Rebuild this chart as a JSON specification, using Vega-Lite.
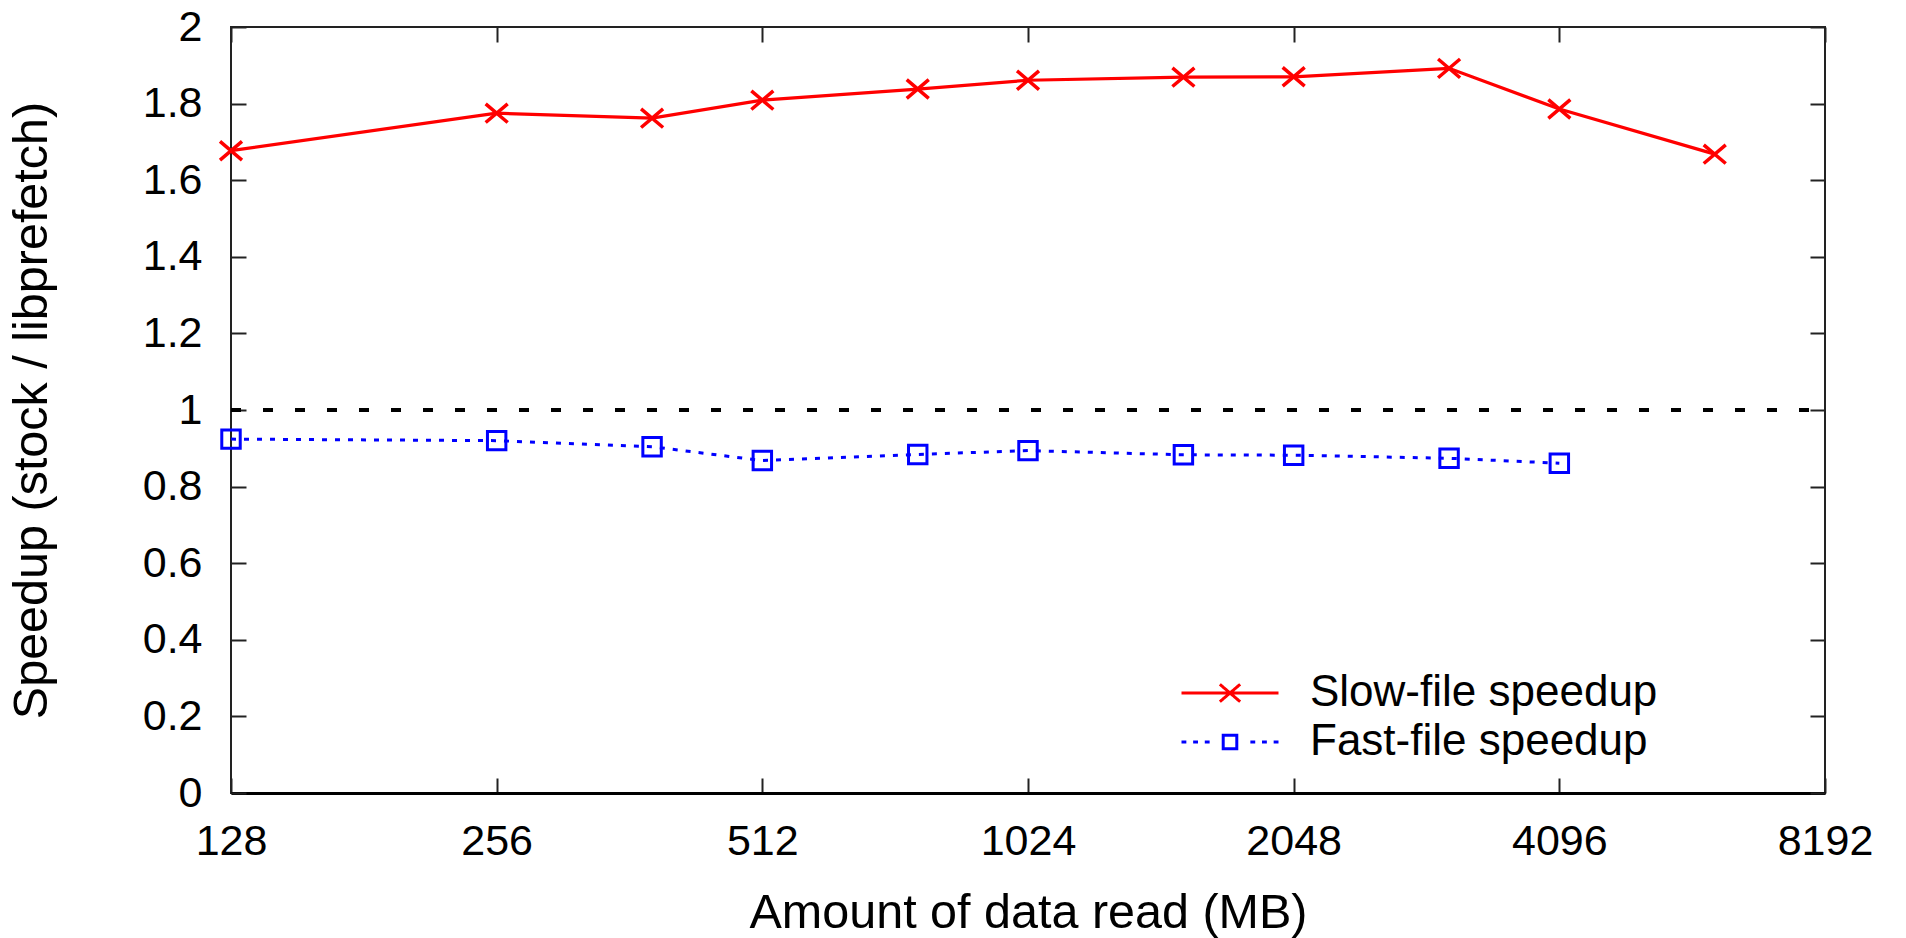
{
  "$schema": "https://vega.github.io/schema/vega-lite/v6.json",
  "width": 1594,
  "height": 766,
  "autosize": {"type": "none"},
  "padding": {"left": 231, "top": 27, "right": 81, "bottom": 145},
  "background": "white",
  "config": {
    "font": "Liberation Sans",
    "view": {"stroke": "#222222", "strokeWidth": 2},
    "axis": {"grid": false, "labelFont": "Liberation Sans", "titleFont": "Liberation Sans", "labelColor": "black", "titleColor": "black", "tickColor": "#222222", "tickWidth": 2, "titleFontWeight": "normal"},
    "legend": {"orient": "none", "title": null, "padding": 0, "labelFont": "Liberation Sans", "labelFontSize": 44, "labelColor": "black", "labelOffset": 30, "labelLimit": 0, "symbolSize": 9409, "symbolStrokeWidth": 3, "symbolFillColor": "transparent", "symbolDash": [1, 0]}
  },
  "datasets": {
    "speed": [
      {"mb": 128, "speedup": 1.677, "series": "Slow-file speedup"},
      {"mb": 256, "speedup": 1.775, "series": "Slow-file speedup"},
      {"mb": 384, "speedup": 1.762, "series": "Slow-file speedup"},
      {"mb": 512, "speedup": 1.809, "series": "Slow-file speedup"},
      {"mb": 768, "speedup": 1.838, "series": "Slow-file speedup"},
      {"mb": 1024, "speedup": 1.861, "series": "Slow-file speedup"},
      {"mb": 1536, "speedup": 1.869, "series": "Slow-file speedup"},
      {"mb": 2048, "speedup": 1.870, "series": "Slow-file speedup"},
      {"mb": 3072, "speedup": 1.892, "series": "Slow-file speedup"},
      {"mb": 4096, "speedup": 1.786, "series": "Slow-file speedup"},
      {"mb": 6144, "speedup": 1.668, "series": "Slow-file speedup"},
      {"mb": 128, "speedup": 0.924, "series": "Fast-file speedup"},
      {"mb": 256, "speedup": 0.920, "series": "Fast-file speedup"},
      {"mb": 384, "speedup": 0.904, "series": "Fast-file speedup"},
      {"mb": 512, "speedup": 0.868, "series": "Fast-file speedup"},
      {"mb": 768, "speedup": 0.884, "series": "Fast-file speedup"},
      {"mb": 1024, "speedup": 0.894, "series": "Fast-file speedup"},
      {"mb": 1536, "speedup": 0.883, "series": "Fast-file speedup"},
      {"mb": 2048, "speedup": 0.882, "series": "Fast-file speedup"},
      {"mb": 3072, "speedup": 0.874, "series": "Fast-file speedup"},
      {"mb": 4096, "speedup": 0.861, "series": "Fast-file speedup"}
    ]
  },
  "data": {"name": "speed"},
  "encoding": {
    "x": {"field": "mb", "type": "quantitative", "scale": {"type": "log", "base": 2, "domain": [128, 8192], "nice": false}, "axis": null},
    "y": {"field": "speedup", "type": "quantitative", "scale": {"domain": [0, 2], "nice": false, "zero": false}, "axis": null}
  },
  "layer": [
    {
      "mark": {"type": "rule", "color": "black", "strokeWidth": 3, "strokeDash": [10, 22]},
      "encoding": {
        "x": {"datum": 128, "type": "quantitative", "axis": {"orient": "bottom", "values": [128, 256, 512, 1024, 2048, 4096, 8192], "format": "d", "title": "Amount of data read (MB)", "labelFontSize": 43, "titleFontSize": 48.5, "tickSize": -15, "labelPadding": 42, "labelDx": 6, "domainColor": "black", "domainWidth": 3, "titleX": 797, "titleY": 134, "titleBaseline": "alphabetic", "labelFlush": false, "labelOverlap": false}},
        "x2": {"datum": 8192},
        "y": {"datum": 1, "type": "quantitative", "axis": {"orient": "left", "values": [0, 0.2, 0.4, 0.6, 0.8, 1, 1.2, 1.4, 1.6, 1.8, 2], "format": "~g", "title": "Speedup (stock / libprefetch)", "labelFontSize": 43, "titleFontSize": 48.5, "tickSize": -15, "labelPadding": 44, "domain": false, "titleX": -185, "titleY": 383, "titleAngle": 270, "titleBaseline": "alphabetic", "labelFlush": false, "labelOverlap": false}}
      }
    },
    {
      "transform": [{"filter": "datum.series === 'Slow-file speedup'"}],
      "mark": {"type": "line", "strokeWidth": 3.2},
      "encoding": {
        "x": {"field": "mb", "type": "quantitative", "axis": {"orient": "top", "values": [128, 256, 512, 1024, 2048, 4096, 8192], "labels": false, "title": null, "tickSize": -15, "domain": false}},
        "y": {"field": "speedup", "type": "quantitative", "axis": {"orient": "right", "values": [0, 0.2, 0.4, 0.6, 0.8, 1, 1.2, 1.4, 1.6, 1.8, 2], "labels": false, "title": null, "tickSize": -15, "domain": false}},
        "color": {"field": "series", "type": "nominal", "scale": {"domain": ["Slow-file speedup"], "range": ["#ff0000"]}, "legend": {"legendX": 949, "legendY": 616, "symbolType": "M-1,0L1,0M-0.21,-0.18L0.21,0.18M-0.21,0.18L0.21,-0.18"}}
      }
    },
    {
      "transform": [{"filter": "datum.series === 'Fast-file speedup'"}],
      "mark": {"type": "line", "strokeWidth": 3, "strokeDash": [5, 8]},
      "encoding": {
        "color": {"field": "series", "type": "nominal", "scale": {"domain": ["Fast-file speedup"], "range": ["#0000ff"]}, "legend": {"legendX": 949, "legendY": 665, "symbolType": "M-1,0L-0.9,0M-0.76,0L-0.66,0M-0.52,0L-0.42,0M0.42,0L0.52,0M0.66,0L0.76,0M0.9,0L1,0M-0.14,-0.14L0.14,-0.14L0.14,0.14L-0.14,0.14Z"}}
      }
    },
    {
      "transform": [{"filter": "datum.series === 'Slow-file speedup'"}],
      "mark": {"type": "point", "filled": false, "strokeWidth": 3.5, "opacity": 1, "color": "#ff0000", "shape": "M-1,-0.85L1,0.85M-1,0.85L1,-0.85", "size": 484}
    },
    {
      "transform": [{"filter": "datum.series === 'Fast-file speedup'"}],
      "mark": {"type": "point", "filled": false, "strokeWidth": 3, "opacity": 1, "color": "#0000ff", "shape": "square", "size": 340}
    }
  ],
  "resolve": {"axis": {"x": "independent", "y": "independent"}, "scale": {"color": "independent"}}
}
